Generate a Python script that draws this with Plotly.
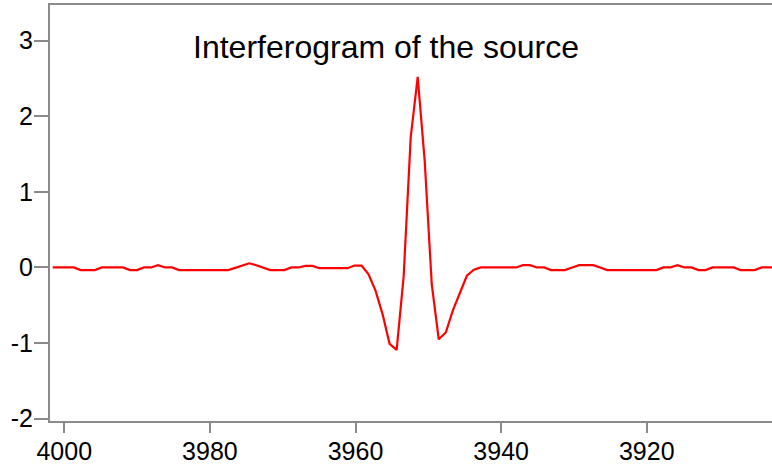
import plotly.graph_objects as go

# Wavenumber positions (cm^-1)
wavenumber = [
    4001.59, 4000.62, 3999.66, 3998.70, 3997.73, 3996.77, 3995.80, 3994.84, 3993.88, 3992.91,
    3991.95, 3990.98, 3990.02, 3989.06, 3988.09, 3987.13, 3986.16, 3985.20, 3984.24, 3983.27,
    3982.31, 3981.34, 3980.38, 3979.42, 3978.45, 3977.49, 3976.52, 3975.56, 3974.60, 3973.63,
    3972.67, 3971.70, 3970.74, 3969.78, 3968.81, 3967.85, 3966.88, 3965.92, 3964.96, 3963.99,
    3963.03, 3962.06, 3961.10, 3960.14, 3959.17, 3958.21, 3957.24, 3956.28, 3955.32, 3954.35,
    3953.39, 3952.42, 3951.46, 3950.50, 3949.53, 3948.57, 3947.60, 3946.64, 3945.68, 3944.71,
    3943.75, 3942.78, 3941.82, 3940.86, 3939.89, 3938.93, 3937.96, 3937.00, 3936.04, 3935.07,
    3934.11, 3933.14, 3932.18, 3931.22, 3930.25, 3929.29, 3928.32, 3927.36, 3926.40, 3925.43,
    3924.47, 3923.50, 3922.54, 3921.58, 3920.61, 3919.65, 3918.68, 3917.72, 3916.76, 3915.79,
    3914.83, 3913.86, 3912.90, 3911.94, 3910.97, 3910.01, 3909.04, 3908.08, 3907.12, 3906.15,
    3905.19, 3904.22, 3903.26, 3902.30,
]

# Interferogram amplitude
amplitude = [
    0.0, 0.0, 0.0, 0.0, -0.035, -0.035, -0.035, 0.0, 0.0, 0.0,
    0.0, -0.035, -0.035, 0.0, 0.0, 0.03, 0.0, 0.0, -0.035, -0.035,
    -0.035, -0.035, -0.035, -0.035, -0.035, -0.035, -0.005, 0.025, 0.055, 0.03,
    0.0, -0.035, -0.035, -0.035, 0.0, 0.0, 0.02, 0.02, -0.01, -0.01,
    -0.01, -0.01, -0.01, 0.025, 0.025, -0.09, -0.31, -0.62, -1.01, -1.09,
    -0.12, 1.72, 2.52, 1.41, -0.22, -0.95, -0.86, -0.57, -0.35, -0.11,
    -0.03, 0.0, 0.0, 0.0, 0.0, 0.0, 0.0, 0.03, 0.03, 0.0,
    0.0, -0.035, -0.035, -0.035, 0.0, 0.03, 0.03, 0.03, 0.0, -0.035,
    -0.035, -0.035, -0.035, -0.035, -0.035, -0.035, -0.035, 0.0, 0.0, 0.03,
    0.0, 0.0, -0.035, -0.035, 0.0, 0.0, 0.0, 0.0, -0.035, -0.035,
    -0.035, 0.0, 0.0, 0.0,
]

x_ticks = [4000, 3980, 3960, 3940, 3920]
y_ticks = [-2, -1, 0, 1, 2, 3]
y_tick_text = ["-2", "-1", "0", "1", "2", "3"]
title_text = "Interferogram of the source"

FONT = "Liberation Sans, Arial, Helvetica, sans-serif"
GREY = "#8a8a8a"

fig = go.Figure()
fig.add_trace(go.Scatter(
    x=wavenumber, y=amplitude, mode="lines",
    line=dict(color="#ff0000", width=2.2),
    hoverinfo="skip", showlegend=False,
))

fig.update_layout(
    width=772, height=465,
    margin=dict(l=50, r=0, t=5, b=44, pad=0),
    paper_bgcolor="white", plot_bgcolor="white",
    font=dict(family=FONT, size=25, color="black"),
    showlegend=False,
    annotations=[dict(
        text=title_text, xref="paper", yref="paper",
        x=(386 - 50) / 722, y=(421 - 47) / 416,
        xanchor="center", yanchor="middle", showarrow=False,
        font=dict(family=FONT, size=32, color="black"),
    )],
)

fig.update_xaxes(
    range=[4001.96, 3902.8],
    tickmode="array", tickvals=x_ticks,
    ticks="outside", ticklen=10, tickwidth=2, tickcolor=GREY,
    showline=True, linecolor=GREY, linewidth=2, mirror=True,
    showgrid=False, zeroline=False, automargin=False,
    ticklabelstandoff=-3,
    tickfont=dict(family=FONT, size=25, color="black"),
)
fig.update_yaxes(
    range=[-2.03, 3.47],
    tickmode="array", tickvals=y_ticks, ticktext=y_tick_text,
    ticks="outside", ticklen=14, tickwidth=2, tickcolor=GREY,
    showline=True, linecolor=GREY, linewidth=2,
    showgrid=False, zeroline=False, automargin=False,
    ticklabelstandoff=-4,
    tickfont=dict(family=FONT, size=25, color="black"),
)

fig.write_html(
    "out.html",
    config={"displayModeBar": False, "staticPlot": True},
    post_script="document.body.style.margin='0';document.body.style.padding='0';",
)
